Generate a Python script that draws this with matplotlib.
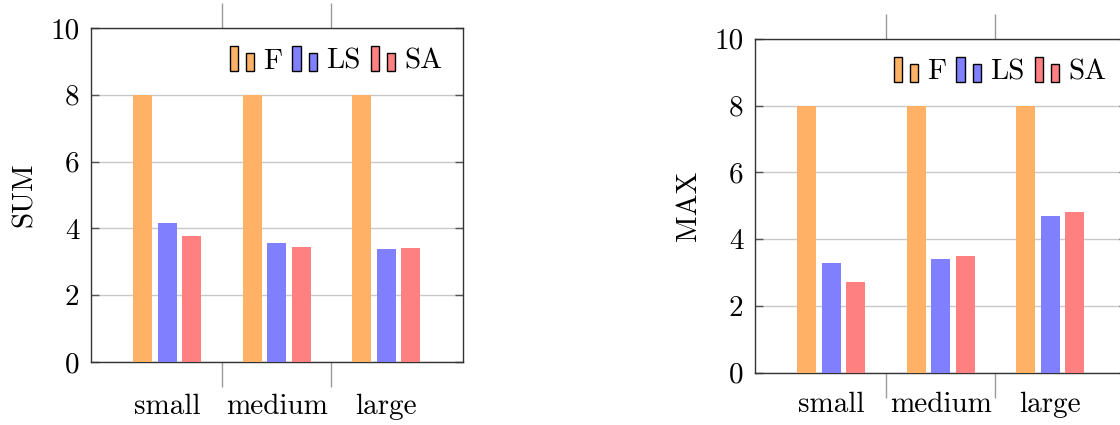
import matplotlib
matplotlib.use("Agg")
import matplotlib.pyplot as plt
import numpy as np
from matplotlib.patches import Rectangle
from matplotlib.legend_handler import HandlerBase

categories = ["small", "medium", "large"]
series_names = ["F", "LS", "SA"]
sum_F = [8.0, 8.0, 8.0]
sum_LS = [4.15, 3.55, 3.37]
sum_SA = [3.76, 3.43, 3.40]
max_F = [8.0, 8.0, 8.0]
max_LS = [3.29, 3.40, 4.68]
max_SA = [2.71, 3.48, 4.81]
y_ticks = [0, 2, 4, 6, 8, 10]

colors = ["#FFB266", "#8080FF", "#FF8080"]

plt.rcParams["font.family"] = ["cmr10", "DejaVu Serif"]
plt.rcParams["axes.formatter.use_mathtext"] = True
FS = 21


class TwoBarHandler(HandlerBase):
    def create_artists(self, legend, orig_handle, xdescent, ydescent,
                       width, height, fontsize, trans):
        fc = orig_handle.get_facecolor()
        bw = width * 0.34
        tall = height * 1.35
        short = height * 1.0
        r1 = Rectangle((-xdescent, -ydescent - height * 0.2), bw, tall,
                       facecolor=fc, edgecolor="black", linewidth=1.0, transform=trans)
        r2 = Rectangle((-xdescent + width - bw, -ydescent - height * 0.2), bw, short,
                       facecolor=fc, edgecolor="black", linewidth=1.0, transform=trans)
        return [r1, r2]


fig = plt.figure(figsize=(11.2, 4.25), dpi=100)
W, H = 1120.0, 425.0
ax1 = fig.add_axes([90.7 / W, (H - 362) / H, 372 / W, 334 / H])
ax2 = fig.add_axes([754.7 / W, (H - 372.7) / H, 372 / W, 334 / H])

x = np.arange(len(categories))
bw = 0.173
step = 0.223


def draw(ax, vals, ylabel, xpad):
    handles = []
    for i, (v, c) in enumerate(zip(vals, colors)):
        h = ax.bar(x + (i - 1) * step, v, width=bw, color=c, edgecolor="none",
                   zorder=3, label=series_names[i])
        handles.append(h.patches[0])
    ax.set_xlim(-0.7, 2.7)
    ax.set_ylim(0, 10)
    ax.set_yticks(y_ticks)
    ax.set_yticklabels([str(t) for t in y_ticks], fontsize=FS)
    ax.set_xticks(x)
    ax.set_xticklabels(categories, fontsize=FS)
    ax.set_xticks([0.5, 1.5], minor=True)
    ax.tick_params(axis="x", which="major", length=0, pad=xpad)
    ax.tick_params(axis="x", which="minor", direction="out", length=18,
                   width=1.0, color="#9a9a9a", top=True, bottom=True)
    ax.tick_params(axis="y", which="major", direction="in", length=6,
                   width=1.0, color="#555555", left=True, right=True, pad=8)
    ax.yaxis.grid(True, color="#c8c8c8", linewidth=1.0, zorder=0)
    ax.set_axisbelow(True)
    for s in ax.spines.values():
        s.set_color("#333333")
        s.set_linewidth(1.0)
    ax.set_ylabel(ylabel, fontsize=FS, labelpad=9)
    leg = ax.legend(handles=handles, labels=series_names, loc="upper right",
                    ncol=3, frameon=False, fontsize=FS,
                    handler_map={Rectangle: TwoBarHandler()},
                    handlelength=0.85, handleheight=0.6, handletextpad=0.3,
                    columnspacing=0.35, borderaxespad=0.3)
    return leg


draw(ax1, [sum_F, sum_LS, sum_SA], "SUM", 23)
draw(ax2, [max_F, max_LS, max_SA], "MAX", 14)

fig.savefig("out.png", dpi=100)
